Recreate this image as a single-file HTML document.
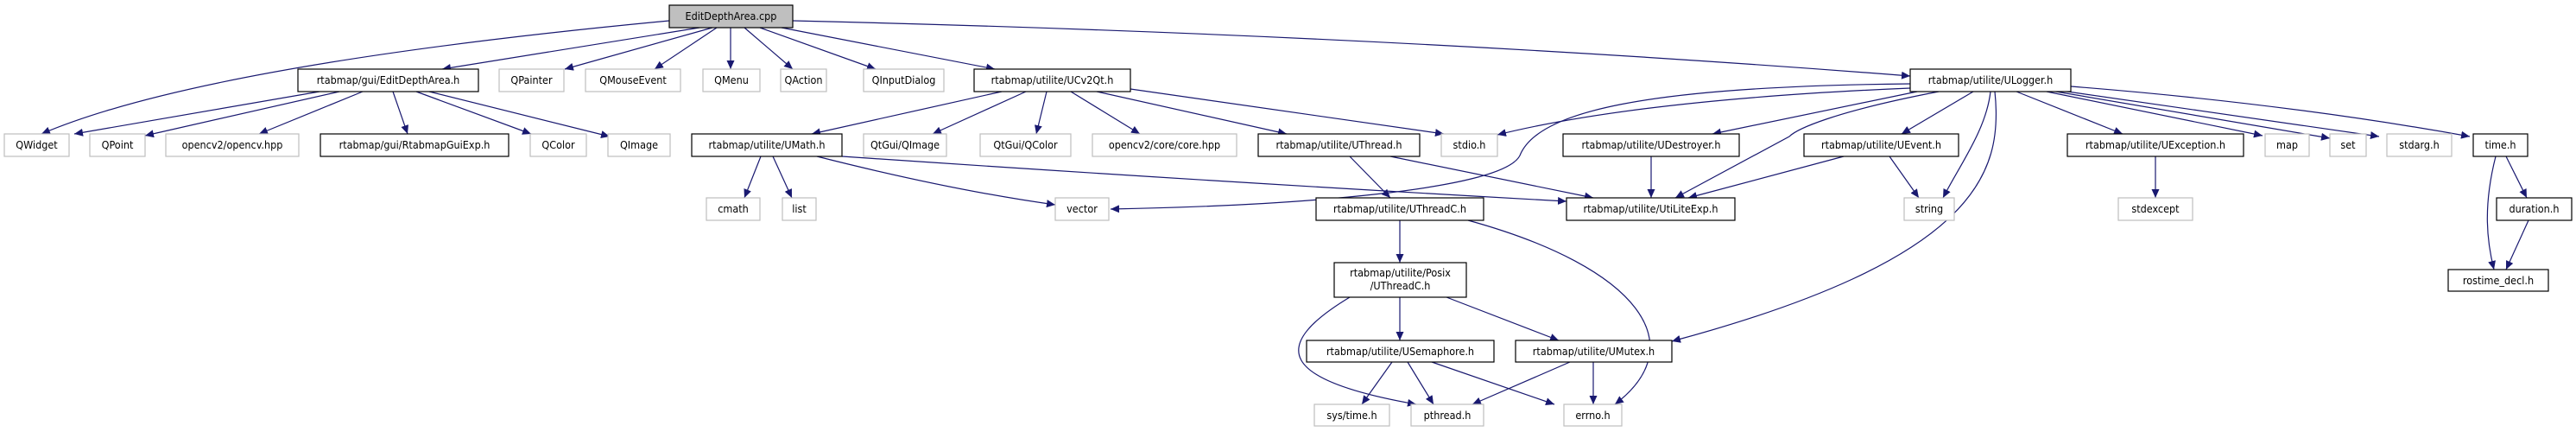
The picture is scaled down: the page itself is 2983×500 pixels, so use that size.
<!DOCTYPE html>
<html><head><meta charset="utf-8"><style>
html,body{margin:0;padding:0;background:#fff;}
svg{display:block}
text{font-family:"DejaVu Sans Condensed","Liberation Sans",sans-serif;font-size:12.5px;fill:#000}
.e{fill:none;stroke:#191970;stroke-width:1.2}
.n{fill:#fff;stroke:#000;stroke-width:1.2}
.x{fill:#fff;stroke:#bfbfbf;stroke-width:1.2}
</style></head><body>
<svg width="2983" height="500" viewBox="0 0 2983 500" xmlns="http://www.w3.org/2000/svg">
<defs><marker id="a" markerWidth="11" markerHeight="9" refX="10" refY="4.5" orient="auto" markerUnits="userSpaceOnUse"><path d="M0,0 L10,4.5 L0,9 z" fill="#191970"/></marker></defs>
<g marker-end="url(#a)">
<path class="e" d="M775,24 C500,50 200,90 48,155"/>
<path class="e" d="M810,32 L512,80"/>
<path class="e" d="M825,32 L654,80"/>
<path class="e" d="M830,32 L758,80"/>
<path class="e" d="M846,32 L846,80"/>
<path class="e" d="M862,32 L918,80"/>
<path class="e" d="M880,32 L1014,80"/>
<path class="e" d="M905,32 L1152,80"/>
<path class="e" d="M918,24 Q1600,40 2212,88"/>
<path class="e" d="M370,106 L86,155"/>
<path class="e" d="M393,106 L168,157"/>
<path class="e" d="M420,106 L300,155"/>
<path class="e" d="M455,106 L472,155"/>
<path class="e" d="M482,106 L615,155"/>
<path class="e" d="M497,106 L706,158"/>
<path class="e" d="M1160,106 L940,155"/>
<path class="e" d="M1188,106 L1080,155"/>
<path class="e" d="M1212,106 L1200,155"/>
<path class="e" d="M1240,106 L1320,155"/>
<path class="e" d="M1270,106 L1490,155"/>
<path class="e" d="M1309,103 L1672,155"/>
<path class="e" d="M881,181 L862,229"/>
<path class="e" d="M895,181 L917,229"/>
<path class="e" d="M946,181 Q1100,220 1222,237"/>
<path class="e" d="M975,181 Q1400,210 1814,233"/>
<path class="e" d="M1563,181 L1610,229"/>
<path class="e" d="M1610,181 L1845,229"/>
<path class="e" d="M1621,255 L1621,304"/>
<path class="e" d="M1700,255 C1900,310 1960,400 1870,468"/>
<path class="e" d="M1563,344 C1470,400 1480,440 1640,468"/>
<path class="e" d="M1621,344 L1621,394"/>
<path class="e" d="M1675,344 L1805,394"/>
<path class="e" d="M1612,419 L1577,468"/>
<path class="e" d="M1630,419 L1660,468"/>
<path class="e" d="M1658,419 L1800,468"/>
<path class="e" d="M1818,419 L1705,468"/>
<path class="e" d="M1845,419 L1845,468"/>
<path class="e" d="M2212,102 Q1900,115 1734,156"/>
<path class="e" d="M2212,97 C1900,100 1780,130 1760,180 C1740,220 1500,238 1286,242"/>
<path class="e" d="M2220,106 L1983,155"/>
<path class="e" d="M2245,106 C2120,130 2080,150 2072,158 L1940,229"/>
<path class="e" d="M1912,181 L1912,229"/>
<path class="e" d="M2135,181 L1955,229"/>
<path class="e" d="M2285,106 L2202,155"/>
<path class="e" d="M2305,106 C2300,150 2270,190 2250,229"/>
<path class="e" d="M2310,106 C2320,200 2290,300 1936,395"/>
<path class="e" d="M2188,181 L2222,229"/>
<path class="e" d="M2335,106 L2458,155"/>
<path class="e" d="M2370,106 L2620,157"/>
<path class="e" d="M2375,105 L2698,160"/>
<path class="e" d="M2380,104 L2755,158"/>
<path class="e" d="M2398,100 Q2650,120 2860,158"/>
<path class="e" d="M2496,181 L2496,229"/>
<path class="e" d="M2902,181 L2926,229"/>
<path class="e" d="M2890,181 C2875,240 2880,280 2888,312"/>
<path class="e" d="M2928,255 L2902,312"/>
</g>
<g text-anchor="middle">
<rect x="775" y="6" width="143" height="26" fill="#bfbfbf" stroke="#000" stroke-width="1.2"/><text x="846.5" y="23">EditDepthArea.cpp</text>
<rect class="n" x="345" y="80" width="209" height="26"/><text x="449.5" y="97">rtabmap/gui/EditDepthArea.h</text>
<rect class="x" x="578" y="80" width="75" height="26"/><text x="615.5" y="97">QPainter</text>
<rect class="x" x="678" y="80" width="110" height="26"/><text x="733" y="97">QMouseEvent</text>
<rect class="x" x="814" y="80" width="66" height="26"/><text x="847" y="97">QMenu</text>
<rect class="x" x="904" y="80" width="53" height="26"/><text x="930.5" y="97">QAction</text>
<rect class="x" x="1000" y="80" width="93" height="26"/><text x="1046.5" y="97">QInputDialog</text>
<rect class="n" x="1128" y="80" width="181" height="26"/><text x="1218.5" y="97">rtabmap/utilite/UCv2Qt.h</text>
<rect class="n" x="2212" y="80" width="186" height="26"/><text x="2305" y="97">rtabmap/utilite/ULogger.h</text>

<rect class="x" x="5" y="155" width="75" height="26"/><text x="42.5" y="172">QWidget</text>
<rect class="x" x="104" y="155" width="64" height="26"/><text x="136" y="172">QPoint</text>
<rect class="x" x="192" y="155" width="154" height="26"/><text x="269" y="172">opencv2/opencv.hpp</text>
<rect class="n" x="371" y="155" width="218" height="26"/><text x="480" y="172">rtabmap/gui/RtabmapGuiExp.h</text>
<rect class="x" x="614" y="155" width="65" height="26"/><text x="646.5" y="172">QColor</text>
<rect class="x" x="704" y="155" width="72" height="26"/><text x="740" y="172">QImage</text>
<rect class="n" x="801" y="155" width="174" height="26"/><text x="888" y="172">rtabmap/utilite/UMath.h</text>
<rect class="x" x="1000" y="155" width="96" height="26"/><text x="1048" y="172">QtGui/QImage</text>
<rect class="x" x="1135" y="155" width="105" height="26"/><text x="1187.5" y="172">QtGui/QColor</text>
<rect class="x" x="1265" y="155" width="167" height="26"/><text x="1348.5" y="172">opencv2/core/core.hpp</text>
<rect class="n" x="1457" y="155" width="187" height="26"/><text x="1550.5" y="172">rtabmap/utilite/UThread.h</text>
<rect class="x" x="1669" y="155" width="65" height="26"/><text x="1701.5" y="172">stdio.h</text>
<rect class="n" x="1810" y="155" width="204" height="26"/><text x="1912" y="172">rtabmap/utilite/UDestroyer.h</text>
<rect class="n" x="2089" y="155" width="179" height="26"/><text x="2178.5" y="172">rtabmap/utilite/UEvent.h</text>
<rect class="n" x="2394" y="155" width="204" height="26"/><text x="2496" y="172">rtabmap/utilite/UException.h</text>
<rect class="x" x="2623" y="155" width="51" height="26"/><text x="2648.5" y="172">map</text>
<rect class="x" x="2698" y="155" width="42" height="26"/><text x="2719" y="172">set</text>
<rect class="x" x="2764" y="155" width="75" height="26"/><text x="2801.5" y="172">stdarg.h</text>
<rect class="n" x="2864" y="155" width="63" height="26"/><text x="2895.5" y="172">time.h</text>

<rect class="x" x="818" y="229" width="62" height="26"/><text x="849" y="246">cmath</text>
<rect class="x" x="906" y="229" width="39" height="26"/><text x="925.5" y="246">list</text>
<rect class="x" x="1222" y="229" width="62" height="26"/><text x="1253" y="246">vector</text>
<rect class="n" x="1524" y="229" width="194" height="26"/><text x="1621" y="246">rtabmap/utilite/UThreadC.h</text>
<rect class="n" x="1814" y="229" width="195" height="26"/><text x="1911.5" y="246">rtabmap/utilite/UtiLiteExp.h</text>
<rect class="x" x="2205" y="229" width="58" height="26"/><text x="2234" y="246">string</text>
<rect class="x" x="2453" y="229" width="86" height="26"/><text x="2496" y="246">stdexcept</text>
<rect class="n" x="2891" y="229" width="87" height="26"/><text x="2934.5" y="246">duration.h</text>

<rect class="n" x="1545" y="304" width="153" height="40"/><text x="1621.5" y="320">rtabmap/utilite/Posix</text><text x="1621.5" y="335">/UThreadC.h</text>
<rect class="n" x="2835" y="312" width="116" height="25"/><text x="2893" y="329">rostime_decl.h</text>

<rect class="n" x="1513" y="394" width="217" height="25"/><text x="1621.5" y="411">rtabmap/utilite/USemaphore.h</text>
<rect class="n" x="1755" y="394" width="181" height="25"/><text x="1845.5" y="411">rtabmap/utilite/UMutex.h</text>

<rect class="x" x="1522" y="468" width="87" height="25"/><text x="1565.5" y="485">sys/time.h</text>
<rect class="x" x="1634" y="468" width="84" height="25"/><text x="1676" y="485">pthread.h</text>
<rect class="x" x="1811" y="468" width="67" height="25"/><text x="1844.5" y="485">errno.h</text>
</g>
</svg>
</body></html>
